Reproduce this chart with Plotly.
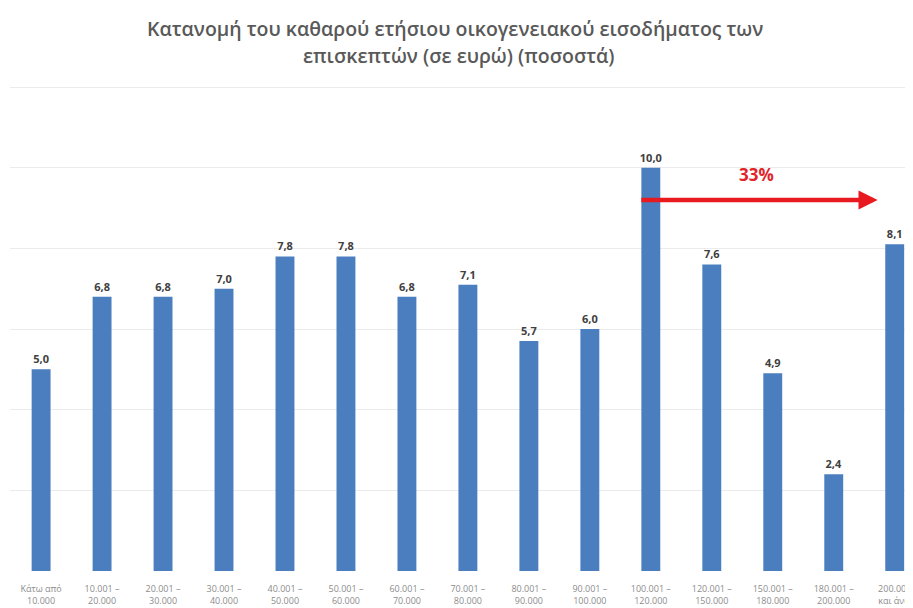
import plotly.graph_objects as go

categories = [
    "Κάτω από<br>10.000", "10.001 –<br>20.000", "20.001 –<br>30.000", "30.001 –<br>40.000",
    "40.001 –<br>50.000", "50.001 –<br>60.000", "60.001 –<br>70.000", "70.001 –<br>80.000",
    "80.001 –<br>90.000", "90.001 –<br>100.000", "100.001 –<br>120.000", "120.001 –<br>150.000",
    "150.001 –<br>180.000", "180.001 –<br>200.000", "200.001<br>και άνω",
]
values = [5.0, 6.8, 6.8, 7.0, 7.8, 7.8, 6.8, 7.1, 5.7, 6.0, 10.0, 7.6, 4.9, 2.4, 8.1]
value_labels = [f"{v:.1f}".replace(".", ",") for v in values]
title_lines = ["Κατανομή του καθαρού ετήσιου οικογενειακού εισοδήματος των",
               "επισκεπτών (σε ευρώ) (ποσοστά)"]
arrow_label = "33%"

x_idx = list(range(len(categories)))

fig = go.Figure(go.Bar(
    x=x_idx, y=values, width=0.31,
    marker=dict(color="#4a7ebf", line=dict(width=0)),
    text=value_labels, textposition="outside", cliponaxis=False, constraintext="none",
    textfont=dict(family="Open Sans", size=11, color="#404040", weight="bold"),
))

# the page body has an 8px default margin, so the figure is sized 905x600
fig.update_layout(
    width=905, height=600,
    margin=dict(l=2, r=0, t=77, b=37),
    paper_bgcolor="white", plot_bgcolor="white",
    showlegend=False,
    xaxis=dict(range=[-0.51, 14.3], tickmode="array", tickvals=x_idx, ticktext=categories,
               tickfont=dict(family="Open Sans", size=9, color="#8c8c8c"),
               showgrid=False, zeroline=False, showline=False, ticks="", automargin=False,
               ticklabelstandoff=11),
    yaxis=dict(range=[0, 12.05], tickvals=[0, 2, 4, 6, 8, 10, 12], showticklabels=False,
               showgrid=True, gridcolor="#ebebeb", gridwidth=1, zeroline=False,
               showline=False, automargin=False),
)

fig.add_annotation(xref="paper", yref="paper", x=0.493, y=1.117, text=title_lines[0],
                   showarrow=False, yanchor="middle",
                   font=dict(family="Open Sans", size=19.5, color="#595959", weight=600))
fig.add_annotation(xref="paper", yref="paper", x=0.497, y=1.061, text=title_lines[1],
                   showarrow=False, yanchor="middle",
                   font=dict(family="Open Sans", size=19.5, color="#595959", weight=600))

# red arrow
fig.add_annotation(x=13.72, y=9.2, ax=9.82, ay=9.2, xref="x", yref="y", axref="x", ayref="y",
                   text="", showarrow=True, arrowhead=2, arrowsize=0.85, arrowwidth=4.5,
                   arrowcolor="#e8191f")
fig.add_annotation(x=11.74, y=9.83, xref="x", yref="y", text=arrow_label, showarrow=False,
                   font=dict(family="Open Sans", size=17, color="#e0242a", weight="bold"))

fig.write_html("out.html")
